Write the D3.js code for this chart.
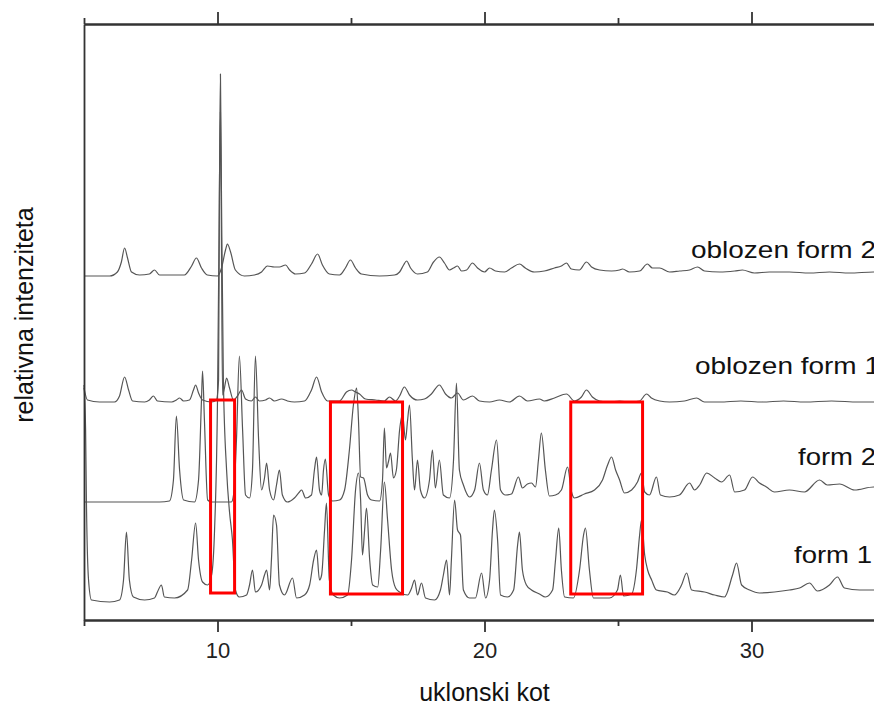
<!DOCTYPE html>
<html>
<head>
<meta charset="utf-8">
<script src="https://cdn.jsdelivr.net/npm/d3@7"></script>
<style>
  body { margin: 0; background: #fff; }
  svg { display: block; font-family: "Liberation Sans", Arial, sans-serif; }
</style>
</head>
<body>
<div id="chart"></div>
<script>
// diffraction patterns, [2theta, intensity above own baseline]
var form1 = [[5.0,217],[5.06,172],[5.09,102],[5.17,22],[5.28,2],[5.96,0],[6.33,2],[6.48,22],[6.59,70],[6.70,22],[6.85,5],
  [7.27,2],[7.64,4],[7.75,10],[7.90,17],[8.01,5],[8.39,4],[8.88,12],[9.03,42],[9.18,79],[9.29,42],[9.44,20],[9.63,17],
  [9.78,27],[9.89,72],[10.00,202],[10.07,402],[10.11,528],[10.15,402],[10.22,222],[10.34,132],[10.45,90],[10.56,62],
  [10.67,12],[10.82,5],[11.09,7],[11.20,17],[11.31,32],[11.42,10],[11.65,17],[11.76,27],[11.84,32],[11.95,12],[12.02,42],
  [12.10,87],[12.21,77],[12.32,17],[12.51,7],[12.81,24],[12.96,4],[13.26,7],[13.45,17],[13.60,42],[13.71,52],[13.82,22],
  [13.90,27],[14.01,72],[14.08,99],[14.19,22],[14.34,7],[14.57,4],[14.87,7],[15.02,42],[15.17,112],[15.28,129],[15.36,102],
  [15.43,47],[15.51,72],[15.58,94],[15.70,42],[15.81,17],[16.00,15],[16.11,52],[16.25,120],[16.37,82],[16.52,32],[16.67,14],
  [16.82,10],[17.12,7],[17.27,14],[17.38,22],[17.49,7],[17.64,19],[17.79,4],[18.13,2],[18.35,12],[18.46,27],[18.58,42],
  [18.69,7],[18.76,42],[18.88,102],[18.99,72],[19.10,67],[19.21,12],[19.44,4],[19.66,4],[19.89,29],[20.04,4],[20.19,22],
  [20.30,72],[20.37,92],[20.49,62],[20.60,7],[20.86,5],[21.09,12],[21.24,57],[21.31,70],[21.42,32],[21.57,17],[21.76,12],
  [22.06,8],[22.28,5],[22.55,12],[22.66,42],[22.78,74],[22.88,32],[23.00,5],[23.33,4],[23.56,32],[23.71,67],[23.78,74],
  [23.93,32],[24.08,4],[24.68,4],[24.98,12],[25.09,27],[25.21,6],[25.51,8],[25.69,32],[25.81,67],[25.88,82],[26.00,47],
  [26.11,32],[26.26,22],[26.44,12],[26.85,10],[27.11,7],[27.38,17],[27.57,29],[27.76,12],[28.24,10],[28.62,7],[28.99,5],
  [29.29,27],[29.44,39],[29.63,17],[29.93,12],[30.30,9],[30.86,10],[31.42,12],[31.80,14],[32.17,19],[32.47,11],[32.92,17],
  [33.22,25],[33.48,14],[34.05,12],[34.57,12],[35.0,12]];

var form2 = [[5.0,0],[6.33,0],[7.83,0],[8.20,1],[8.35,22],[8.46,86],[8.58,32],[8.73,2],[9.14,0],[9.29,22],[9.40,102],
  [9.44,131],[9.51,82],[9.63,2],[9.78,0],[10.52,0],[10.60,7],[10.71,62],[10.82,146],[10.94,72],[11.05,7],[11.20,4],
  [11.31,32],[11.42,146],[11.54,62],[11.65,12],[11.76,24],[11.84,39],[11.95,12],[12.10,2],[12.21,17],[12.32,32],[12.43,7],
  [12.62,0],[12.88,4],[13.07,10],[13.15,12],[13.30,4],[13.52,7],[13.63,32],[13.71,45],[13.82,12],[13.90,7],[13.97,32],
  [14.04,43],[14.16,7],[14.31,1],[14.57,2],[14.76,12],[14.94,52],[15.09,97],[15.21,114],[15.28,82],[15.36,25],[15.47,24],
  [15.62,7],[15.77,2],[16.07,1],[16.18,22],[16.25,74],[16.33,34],[16.40,40],[16.48,49],[16.59,24],[16.70,32],[16.82,72],
  [16.93,88],[17.04,62],[17.12,82],[17.19,97],[17.30,42],[17.38,12],[17.49,42],[17.60,12],[17.75,4],[17.94,22],[18.05,52],
  [18.16,14],[18.31,42],[18.46,7],[18.69,4],[18.84,42],[18.95,119],[19.06,32],[19.21,17],[19.44,5],[19.63,12],[19.81,39],
  [19.96,12],[20.11,7],[20.26,32],[20.45,62],[20.60,12],[20.79,7],[21.01,8],[21.27,25],[21.42,14],[21.61,18],[21.76,19],
  [21.91,15],[22.02,42],[22.13,69],[22.28,32],[22.43,6],[22.66,7],[22.88,12],[23.11,35],[23.26,10],[23.37,4],[23.74,8],
  [24.12,12],[24.42,22],[24.61,37],[24.76,45],[24.91,32],[25.06,22],[25.24,9],[25.51,12],[25.73,20],[25.88,29],[26.00,10],
  [26.18,7],[26.44,25],[26.59,7],[26.93,5],[27.30,7],[27.68,19],[27.87,12],[28.06,17],[28.32,29],[28.62,24],[28.88,20],
  [29.18,27],[29.37,10],[29.74,12],[30.04,25],[30.30,19],[30.56,15],[30.86,10],[31.42,12],[31.98,10],[32.55,22],[32.84,17],
  [33.30,18],[33.86,12],[34.57,15],[35.0,14]];

var oblozen1 = [[5.0,14],[5.13,2],[5.58,0],[6.14,0],[6.33,6],[6.52,25],[6.67,12],[6.82,1],[7.27,0],[7.45,2],[7.60,6],
  [7.75,1],[8.28,0],[8.46,2],[8.58,4],[8.73,1],[8.95,2],[9.10,12],[9.18,17],[9.29,9],[9.44,2],[9.78,0],[9.96,2],[10.04,22],
  [10.07,200],[10.11,290],[10.15,150],[10.19,7],[10.26,14],[10.34,24],[10.45,14],[10.60,2],[10.75,6],[10.90,12],[11.05,3],
  [11.27,1],[11.42,5],[11.57,1],[11.80,2],[11.95,4],[12.13,1],[12.40,3],[12.62,1],[12.88,0],[13.26,1],[13.52,12],[13.71,25],
  [13.90,10],[14.12,1],[14.57,1],[14.83,10],[15.02,12],[15.17,10],[15.32,8],[15.54,3],[15.92,2],[16.25,1],[16.44,5],
  [16.67,1],[16.82,6],[17.00,15],[17.19,7],[17.49,2],[17.75,3],[18.01,8],[18.31,17],[18.54,8],[18.76,4],[18.99,9],[19.21,2],
  [19.55,6],[19.81,1],[20.19,0],[20.56,2],[20.93,0],[21.31,6],[21.61,1],[22.06,3],[22.24,1],[22.62,4],[23.07,8],[23.37,1],
  [23.63,5],[23.82,12],[24.04,5],[24.31,1],[24.68,0],[25.06,1],[25.43,0],[25.81,1],[26.07,8],[26.25,4],[26.56,1],[26.93,0],
  [27.49,1],[27.94,4],[28.24,0],[28.81,0],[29.6,1],[30.4,0],[31.2,1],[32.0,0],[33.0,1],[34.0,0],[35.0,0]];

var oblozen2 = [[5.0,0],[5.96,0],[6.25,4],[6.40,14],[6.52,28],[6.63,18],[6.78,4],[7.08,1],[7.45,2],[7.64,6],[7.83,1],
  [8.76,1],[9.03,10],[9.21,18],[9.40,8],[9.62,1],[10.00,0],[10.15,8],[10.30,26],[10.37,32],[10.49,24],[10.67,6],[11.01,0],
  [11.38,1],[11.65,4],[11.87,10],[12.13,9],[12.32,9],[12.55,11],[12.70,6],[12.92,2],[13.26,3],[13.52,12],[13.75,22],
  [13.93,11],[14.19,2],[14.57,1],[14.79,8],[14.98,16],[15.17,8],[15.39,2],[16.07,0],[16.63,1],[16.82,4],[16.97,11],
  [17.08,15],[17.23,8],[17.49,2],[17.86,4],[18.09,14],[18.31,19],[18.50,13],[18.69,6],[18.84,8],[18.99,10],[19.14,5],
  [19.33,6],[19.55,13],[19.74,8],[20.00,4],[20.19,8],[20.41,5],[20.75,4],[21.01,8],[21.31,12],[21.53,8],[21.87,4],
  [22.24,5],[22.62,8],[22.88,10],[23.07,13],[23.25,7],[23.55,6],[23.82,14],[24.01,9],[24.31,6],[24.76,5],[25.06,6],
  [25.17,7],[25.43,4],[25.81,5],[26.10,12],[26.29,8],[26.56,8],[26.93,4],[27.31,5],[27.68,6],[27.98,9],[28.24,5],
  [28.81,4],[29.37,5],[29.66,6],[30.11,3],[30.67,4],[31.42,4],[32.17,3],[32.92,4],[33.67,3],[34.57,4],[35.0,4]];

var seriesNames = ["form 1", "form 2", "oblozen form 1", "oblozen form 2"];
var seriesData = [form1, form2, oblozen1, oblozen2];
var seriesOffsets = [18, 118, 218, 344];

// highlighted 2theta ranges [from, to, low, high]
var boxes = [[9.74, 10.64, 27, 220], [14.23, 16.93, 26, 218], [23.23, 25.92, 26, 218]];

var majorTicks = [10, 20, 30];
var minorTicks = [5, 15, 25, 35];

var width = 874, height = 707;
var margin = { left: 84, top: 24, bottom: 87 };

var svg = d3.select("#chart").append("svg")
  .attr("width", width)
  .attr("height", height);

var x = d3.scaleLinear().domain([5, 35]).range([margin.left, margin.left + 30 * 26.7]);
var y = d3.scaleLinear().domain([0, 596]).range([height - margin.bottom, margin.top]);

// traces
var line = d3.line()
  .x(function (d) { return x(d[0]); })
  .curve(d3.curveMonotoneX);

seriesData.forEach(function (s, i) {
  svg.append("path")
    .datum(s)
    .attr("fill", "none")
    .attr("stroke", "#555")
    .attr("stroke-width", 1.2)
    .attr("d", line.y(function (d) { return y(d[1] + seriesOffsets[i]); }));
});

// red boxes
svg.selectAll("rect.box")
  .data(boxes)
  .enter()
  .append("rect")
  .attr("class", "box")
  .attr("x", function (d) { return x(d[0]); })
  .attr("y", function (d) { return y(d[3]); })
  .attr("width", function (d) { return x(d[1]) - x(d[0]); })
  .attr("height", function (d) { return y(d[2]) - y(d[3]); })
  .attr("fill", "none")
  .attr("stroke", "#f00")
  .attr("stroke-width", 3);

// axes
function styleAxis(g) {
  g.selectAll("path, line").attr("stroke", "#333").attr("stroke-width", 1.8);
  g.selectAll("text").attr("fill", "#222").style("font-size", "22px")
    .style("font-family", "'Liberation Sans', Arial, sans-serif");
}

var yBottom = y(0), yTop = y(596);

svg.append("g")
  .attr("transform", "translate(0," + yBottom + ")")
  .call(d3.axisBottom(x).tickValues(majorTicks).tickSize(12).tickSizeOuter(0).tickPadding(10)
    .tickFormat(d3.format("d")))
  .call(styleAxis);
svg.append("g")
  .attr("transform", "translate(0," + yBottom + ")")
  .call(d3.axisBottom(x).tickValues(minorTicks).tickSize(6).tickSizeOuter(0).tickFormat(""))
  .call(styleAxis);
svg.append("g")
  .attr("transform", "translate(0," + yTop + ")")
  .call(d3.axisTop(x).tickValues(majorTicks).tickSize(12).tickSizeOuter(0).tickFormat(""))
  .call(styleAxis);
svg.append("g")
  .attr("transform", "translate(0," + yTop + ")")
  .call(d3.axisTop(x).tickValues(minorTicks).tickSize(6).tickSizeOuter(0).tickFormat(""))
  .call(styleAxis);
svg.append("g")
  .attr("transform", "translate(" + x(5) + ",0)")
  .call(d3.axisLeft(y).tickValues([]).tickSizeOuter(0))
  .call(styleAxis);

// axis titles
svg.append("text")
  .attr("x", x(20))
  .attr("y", 701)
  .attr("text-anchor", "middle")
  .style("font-size", "25px")
  .attr("fill", "#111")
  .text("uklonski kot");

svg.append("text")
  .attr("transform", "translate(33,315) rotate(-90)")
  .attr("text-anchor", "middle")
  .style("font-size", "25px")
  .attr("fill", "#111")
  .text("relativna intenziteta");

// series labels
var labelPos = [[794, 563, 78], [798, 465, 78], [695, 374, 185], [691, 258, 185]];
svg.selectAll("text.label")
  .data(seriesNames)
  .enter()
  .append("text")
  .attr("class", "label")
  .attr("x", function (d, i) { return labelPos[i][0]; })
  .attr("y", function (d, i) { return labelPos[i][1]; })
  .attr("textLength", function (d, i) { return labelPos[i][2]; })
  .attr("lengthAdjust", "spacingAndGlyphs")
  .style("font-size", "24px")
  .attr("fill", "#111")
  .text(function (d) { return d; });
</script>
</body>
</html>
